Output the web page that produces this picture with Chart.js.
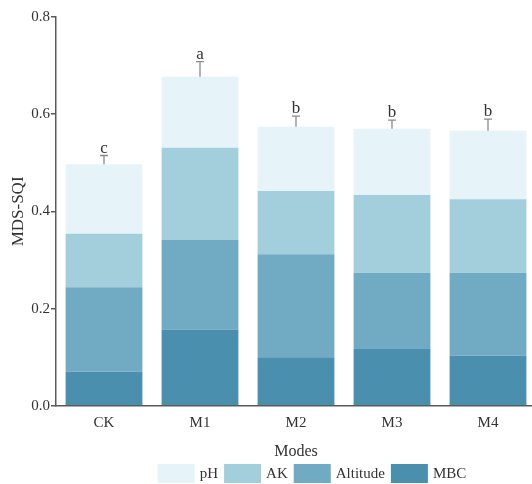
<!DOCTYPE html>
<html>
<head>
<meta charset="utf-8">
<script src="https://cdn.jsdelivr.net/npm/chart.js@4/dist/chart.umd.min.js"></script>
<style>
  html, body { margin: 0; padding: 0; background: #fff; overflow: hidden; }
  #wrap { width: 536px; height: 484px; position: relative; }
</style>
</head>
<body>
<div id="wrap"><canvas id="chart"></canvas></div>
<script>
// Planting modes on the x axis
const modes = ['CK', 'M1', 'M2', 'M3', 'M4'];

// Contribution of each indicator to the MDS-SQI (stacked bottom to top)
const mbc      = [0.070, 0.157, 0.100, 0.117, 0.103];
const altitude = [0.174, 0.184, 0.212, 0.157, 0.171];
const ak       = [0.110, 0.190, 0.130, 0.160, 0.151];
const ph       = [0.143, 0.146, 0.132, 0.136, 0.141];

// Standard error of the total index and significance letters
const errors  = [0.018, 0.031, 0.022, 0.018, 0.024];
const letters = ['c', 'a', 'b', 'b', 'b'];

// Y axis tick values
const yTicks = [0.0, 0.2, 0.4, 0.6, 0.8];

const SERIF = '"Liberation Serif", "Times New Roman", serif';
const AXIS_COLOR = '#5a5a5a';
const TEXT_COLOR = '#333333';

// Error bars and letters above each stacked column
const errorBarPlugin = {
  id: 'errorBars',
  afterDatasetsDraw(chart) {
    const { ctx, scales: { x, y } } = chart;
    ctx.save();
    modes.forEach((m, i) => {
      const total = chart.data.datasets.reduce((s, d) => s + d.data[i], 0);
      const cx = x.getPixelForValue(i);
      const yTop = y.getPixelForValue(total);
      const yErr = y.getPixelForValue(total + errors[i]);
      ctx.strokeStyle = '#8a8a8a';
      ctx.lineWidth = 1.3;
      ctx.beginPath();
      ctx.moveTo(cx, yTop);
      ctx.lineTo(cx, yErr);
      ctx.moveTo(cx - 4, yErr);
      ctx.lineTo(cx + 4, yErr);
      ctx.stroke();
      ctx.fillStyle = TEXT_COLOR;
      ctx.font = '17px ' + SERIF;
      ctx.textAlign = 'center';
      ctx.textBaseline = 'alphabetic';
      ctx.fillText(letters[i], cx, yErr - 3);
    });
    ctx.restore();
  }
};

// Horizontal legend under the axis title, listed from top segment to bottom
const legendPlugin = {
  id: 'bottomLegend',
  afterDraw(chart) {
    const { ctx } = chart;
    const items = chart.data.datasets.slice().reverse();
    const boxW = 37, boxH = 19, gapText = 5, gapItem = 6;
    ctx.save();
    ctx.font = '15px ' + SERIF;
    ctx.textBaseline = 'middle';
    ctx.textAlign = 'left';
    let total = 0;
    items.forEach((d, k) => {
      total += boxW + gapText + ctx.measureText(d.label).width + (k < items.length - 1 ? gapItem : 0);
    });
    let xPos = 312 - total / 2;
    const yTop = 464;
    items.forEach(d => {
      ctx.fillStyle = d.backgroundColor;
      ctx.fillRect(xPos, yTop, boxW, boxH);
      xPos += boxW + gapText;
      ctx.fillStyle = TEXT_COLOR;
      ctx.fillText(d.label, xPos, yTop + boxH / 2 + 1);
      xPos += ctx.measureText(d.label).width + gapItem;
    });
    ctx.restore();
  }
};

new Chart(document.getElementById('chart'), {
  type: 'bar',
  data: {
    labels: modes,
    datasets: [
      { label: 'MBC',      data: mbc,      backgroundColor: '#4b8fae' },
      { label: 'Altitude', data: altitude, backgroundColor: '#70aac3' },
      { label: 'AK',       data: ak,       backgroundColor: '#a3cfdd' },
      { label: 'pH',       data: ph,       backgroundColor: '#e6f4f9' }
    ]
  },
  options: {
    responsive: true,
    maintainAspectRatio: false,
    animation: false,
    layout: { padding: { top: 17, right: 0, bottom: 23, left: 0 } },
    datasets: { bar: { barPercentage: 0.8, categoryPercentage: 1.0, borderWidth: 0 } },
    plugins: {
      legend: { display: false },
      tooltip: { enabled: false }
    },
    scales: {
      x: {
        stacked: true,
        grid: { display: false },
        border: { display: true, color: AXIS_COLOR, width: 1.5 },
        ticks: { color: TEXT_COLOR, font: { family: SERIF, size: 15 }, padding: 0 },
        title: { display: true, text: 'Modes', color: TEXT_COLOR, font: { family: SERIF, size: 16 }, padding: { top: 10, bottom: 0 } }
      },
      y: {
        stacked: true,
        min: 0,
        max: 0.8,
        afterBuildTicks(scale) { scale.ticks = yTicks.map(v => ({ value: v })); },
        afterFit(scale) { scale.width = 56; },
        grid: { drawOnChartArea: false, drawTicks: true, tickLength: 5, color: AXIS_COLOR, lineWidth: 1.5 },
        border: { display: true, color: AXIS_COLOR, width: 1.5 },
        ticks: { color: TEXT_COLOR, font: { family: SERIF, size: 15 }, padding: 1, callback: v => Number(v).toFixed(1) },
        title: { display: true, text: 'MDS-SQI', color: TEXT_COLOR, font: { family: SERIF, size: 17 }, padding: { top: 8, bottom: 0 } }
      }
    }
  },
  plugins: [errorBarPlugin, legendPlugin]
});
</script>
</body>
</html>
